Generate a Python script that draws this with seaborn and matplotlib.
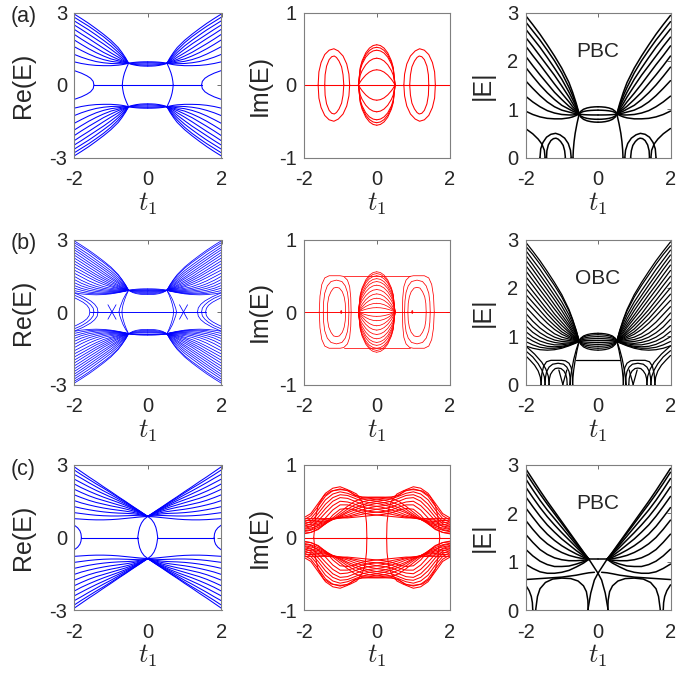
import numpy as np
import pandas as pd
import matplotlib
matplotlib.use('Agg')
import matplotlib.pyplot as plt
import seaborn as sns

# ---------------- row (a) : PBC ----------------
T_FAN = [0.52, 0.6, 0.7, 0.8, 1.0, 1.2, 1.4, 1.6, 1.8, 2.0]
re_fan_a = [
    [0.9, 1.12, 1.35, 1.55, 1.85, 2.1, 2.33, 2.55, 2.75, 2.94],
    [0.9, 1.08, 1.28, 1.45, 1.75, 2.0, 2.22, 2.43, 2.62, 2.81],
    [0.9, 1.04, 1.2, 1.35, 1.62, 1.85, 2.07, 2.28, 2.47, 2.66],
    [0.9, 1.0, 1.12, 1.25, 1.48, 1.7, 1.9, 2.1, 2.3, 2.49],
    [0.9, 0.97, 1.05, 1.15, 1.33, 1.52, 1.72, 1.92, 2.11, 2.31],
    [0.9, 0.95, 1.0, 1.06, 1.2, 1.35, 1.53, 1.71, 1.9, 2.1],
    [0.9, 0.93, 0.96, 1.0, 1.08, 1.2, 1.34, 1.5, 1.68, 1.87],
    [0.9, 0.91, 0.92, 0.94, 0.98, 1.05, 1.15, 1.28, 1.43, 1.59],
    [0.9, 0.89, 0.88, 0.88, 0.89, 0.92, 0.97, 1.05, 1.15, 1.27],
    [0.9, 0.87, 0.84, 0.82, 0.8, 0.8, 0.81, 0.84, 0.89, 0.96],
]
T_LENS = [0, 0.1, 0.2, 0.3, 0.4, 0.48, 0.52]
re_lens_a = [
    [0.96, 0.96, 0.955, 0.945, 0.93, 0.91, 0.9],
    [0.92, 0.92, 0.918, 0.915, 0.91, 0.9, 0.9],
    [0.87, 0.87, 0.872, 0.876, 0.882, 0.89, 0.9],
    [0.82, 0.822, 0.83, 0.84, 0.86, 0.885, 0.9],
    [0.78, 0.782, 0.79, 0.81, 0.84, 0.875, 0.9],
]
abs_lens_a = [
    [1.05, 1.047, 1.04, 1.025, 0.998, 0.953, 0.9],
    [0.98, 0.978, 0.974, 0.966, 0.952, 0.928, 0.9],
    [0.88, 0.88, 0.881, 0.883, 0.887, 0.893, 0.9],
    [0.79, 0.792, 0.798, 0.809, 0.829, 0.862, 0.9],
    [0.73, 0.733, 0.742, 0.759, 0.79, 0.84, 0.9],
]
T_CAP = [0, 0.1, 0.2, 0.3, 0.4, 0.45, 0.5]
im_cap_a = [
    [0.555, 0.544, 0.509, 0.444, 0.333, 0.242, 0],
    [0.52, 0.51, 0.477, 0.416, 0.312, 0.227, 0],
    [0.48, 0.47, 0.44, 0.384, 0.288, 0.209, 0],
    [0.37, 0.36, 0.331, 0.279, 0.198, 0.137, 0],
    [0.21, 0.202, 0.178, 0.137, 0.079, 0.043, 0],
]
ell_out_a_t = [0.74, 0.76, 0.82, 0.92, 1.05, 1.17, 1.3, 1.42, 1.52, 1.58, 1.6]
ell_out_a_e = [0, 0.15, 0.29, 0.4, 0.47, 0.5, 0.48, 0.42, 0.31, 0.18, 0]
ell_in_a_t = [0.9, 0.92, 0.96, 1.03, 1.1, 1.16, 1.23, 1.3, 1.37, 1.41, 1.42]
ell_in_a_e = [0, 0.14, 0.25, 0.33, 0.38, 0.4, 0.39, 0.35, 0.26, 0.14, 0]
arc_a_t = [0.52, 0.58, 0.63, 0.66, 0.68, 0.69]
arc_a_e = [0.9, 0.7, 0.5, 0.33, 0.16, 0]
hyp_a_t = [1.46, 1.48, 1.55, 1.65, 1.8, 2.0]
hyp_a_e = [0, 0.15, 0.28, 0.38, 0.49, 0.6]
zero_a_t = [0, 1.46]

# ---------------- row (b) : OBC ----------------
re_fan_b = [
    [0.9, 1.12, 1.35, 1.55, 1.86, 2.11, 2.34, 2.56, 2.76, 2.95],
    [0.9, 1.11, 1.33, 1.52, 1.81, 2.05, 2.27, 2.49, 2.69, 2.87],
    [0.9, 1.08, 1.27, 1.44, 1.71, 1.94, 2.16, 2.38, 2.58, 2.78],
    [0.9, 1.05, 1.21, 1.36, 1.62, 1.84, 2.06, 2.27, 2.48, 2.68],
    [0.9, 1.03, 1.16, 1.29, 1.53, 1.75, 1.96, 2.17, 2.38, 2.58],
    [0.9, 1.0, 1.11, 1.23, 1.44, 1.65, 1.86, 2.06, 2.27, 2.47],
    [0.9, 0.98, 1.07, 1.18, 1.37, 1.56, 1.76, 1.96, 2.16, 2.36],
    [0.9, 0.96, 1.03, 1.12, 1.29, 1.46, 1.66, 1.85, 2.05, 2.24],
    [0.9, 0.95, 1.0, 1.08, 1.22, 1.38, 1.55, 1.74, 1.93, 2.12],
    [0.9, 0.94, 0.98, 1.04, 1.15, 1.3, 1.46, 1.64, 1.82, 2.0],
    [0.9, 0.93, 0.96, 1.0, 1.09, 1.22, 1.36, 1.53, 1.7, 1.87],
    [0.9, 0.92, 0.94, 0.97, 1.04, 1.14, 1.27, 1.42, 1.58, 1.74],
    [0.9, 0.91, 0.92, 0.94, 0.98, 1.05, 1.16, 1.29, 1.45, 1.61],
    [0.9, 0.9, 0.9, 0.91, 0.93, 0.98, 1.06, 1.17, 1.31, 1.48],
    [0.9, 0.89, 0.88, 0.88, 0.89, 0.92, 0.98, 1.07, 1.19, 1.35],
    [0.9, 0.88, 0.87, 0.86, 0.85, 0.87, 0.91, 0.98, 1.08, 1.22],
    [0.9, 0.88, 0.86, 0.84, 0.82, 0.82, 0.85, 0.9, 0.98, 1.1],
    [0.9, 0.87, 0.85, 0.82, 0.79, 0.78, 0.79, 0.83, 0.9, 0.99],
    [0.9, 0.87, 0.84, 0.81, 0.77, 0.75, 0.75, 0.77, 0.82, 0.89],
    [0.9, 0.86, 0.83, 0.8, 0.75, 0.72, 0.71, 0.72, 0.75, 0.8],
]
re_lens_b = [
    [0.96, 0.96, 0.955, 0.945, 0.93, 0.91, 0.9],
    [0.93, 0.93, 0.928, 0.923, 0.915, 0.905, 0.9],
    [0.9, 0.9, 0.9, 0.9, 0.9, 0.9, 0.9],
    [0.87, 0.87, 0.872, 0.876, 0.882, 0.892, 0.9],
    [0.84, 0.841, 0.845, 0.852, 0.866, 0.886, 0.9],
    [0.8, 0.802, 0.808, 0.82, 0.845, 0.878, 0.9],
    [0.76, 0.762, 0.77, 0.789, 0.823, 0.87, 0.9],
    [0.72, 0.723, 0.733, 0.757, 0.8, 0.862, 0.9],
]
abs_lens_b = [
    [1.06, 1.057, 1.049, 1.033, 1.004, 0.956, 0.9],
    [1.03, 1.027, 1.021, 1.008, 0.985, 0.946, 0.9],
    [0.99, 0.988, 0.984, 0.975, 0.959, 0.932, 0.9],
    [0.95, 0.949, 0.947, 0.942, 0.933, 0.918, 0.9],
    [0.91, 0.91, 0.91, 0.91, 0.906, 0.904, 0.9],
    [0.87, 0.871, 0.872, 0.875, 0.881, 0.89, 0.9],
    [0.83, 0.831, 0.835, 0.842, 0.855, 0.876, 0.9],
    [0.79, 0.792, 0.798, 0.809, 0.829, 0.862, 0.9],
    [0.75, 0.753, 0.76, 0.776, 0.803, 0.848, 0.9],
    [0.71, 0.714, 0.723, 0.742, 0.777, 0.834, 0.9],
]
im_cap_b = [
    [0.555, 0.544, 0.509, 0.444, 0.333, 0.242, 0],
    [0.53, 0.519, 0.486, 0.424, 0.318, 0.231, 0],
    [0.5, 0.49, 0.458, 0.4, 0.3, 0.218, 0],
    [0.46, 0.45, 0.418, 0.36, 0.265, 0.19, 0],
    [0.42, 0.41, 0.38, 0.325, 0.235, 0.165, 0],
    [0.37, 0.36, 0.331, 0.279, 0.198, 0.137, 0],
    [0.31, 0.301, 0.274, 0.226, 0.155, 0.104, 0],
    [0.25, 0.241, 0.215, 0.17, 0.105, 0.062, 0],
    [0.19, 0.182, 0.16, 0.122, 0.068, 0.036, 0],
    [0.12, 0.115, 0.101, 0.077, 0.043, 0.023, 0],
    [0.06, 0.058, 0.05, 0.038, 0.022, 0.011, 0],
]
ell_c_b_t = [0.7, 0.71, 0.74, 0.8, 0.9, 1.0, 1.3, 1.42, 1.5, 1.55, 1.57]
ell_c_b_e = [0, 0.2, 0.35, 0.44, 0.49, 0.5, 0.5, 0.47, 0.38, 0.22, 0]
ell_a_b_t = [0.76, 0.77, 0.8, 0.86, 0.95, 1.1, 1.25, 1.35, 1.42, 1.45, 1.46]
ell_a_b_e = [0, 0.15, 0.27, 0.36, 0.42, 0.44, 0.42, 0.36, 0.26, 0.14, 0]
ell_b_b_t = [0.85, 0.86, 0.89, 0.94, 1.02, 1.1, 1.18, 1.25, 1.31, 1.34, 1.35]
ell_b_b_e = [0, 0.12, 0.21, 0.28, 0.33, 0.34, 0.33, 0.28, 0.21, 0.12, 0]
dot_b_t = [0.955, 0.96, 0.97, 0.98, 0.985]
dot_b_e = [0, 0.015, 0.02, 0.015, 0]
top_line_b_t = [0, 0.9]
top_line_b_e = [0.5, 0.5]
flat_abs_b_t = [0, 0.6]
flat_abs_b_e = [0.5, 0.5]
arc1_b_t = [0.52, 0.58, 0.63, 0.67, 0.69, 0.7]
arc1_b_e = [0.9, 0.7, 0.5, 0.3, 0.15, 0]
arc2_b_t = [0.52, 0.6, 0.67, 0.72, 0.76, 0.78]
arc2_b_e = [0.9, 0.72, 0.52, 0.32, 0.15, 0]
cross_b_t = [0.86, 0.97, 1.08]
cross_b_e = [0.3, 0, -0.3]
hyp_c_b_t = [1.57, 1.59, 1.65, 1.75, 1.87, 2.0]
hyp_c_b_e = [0, 0.15, 0.28, 0.4, 0.5, 0.6]
hyp_a_b_t = [1.46, 1.48, 1.55, 1.65, 1.8, 2.0]
hyp_a_b_e = [0, 0.16, 0.3, 0.43, 0.57, 0.7]
hyp_b_b_t = [1.35, 1.37, 1.44, 1.55, 1.75, 2.0]
hyp_b_b_e = [0, 0.17, 0.32, 0.46, 0.63, 0.8]
zero_b_t = [0, 1.57]

# ---------------- row (c) : PBC ----------------
T_C = [0, 0.2, 0.4, 0.6, 0.8, 1.0, 1.2, 1.4, 1.6, 1.8, 2.0]
re_fan_c = [
    [0.87, 1.08, 1.28, 1.49, 1.69, 1.9, 2.1, 2.31, 2.51, 2.72, 2.93],
    [0.87, 1.07, 1.27, 1.47, 1.66, 1.85, 2.04, 2.22, 2.41, 2.6, 2.8],
    [0.87, 1.06, 1.25, 1.43, 1.6, 1.77, 1.93, 2.1, 2.27, 2.45, 2.62],
    [0.87, 1.05, 1.22, 1.38, 1.53, 1.67, 1.81, 1.95, 2.1, 2.26, 2.42],
    [0.87, 1.04, 1.19, 1.33, 1.45, 1.56, 1.67, 1.79, 1.92, 2.06, 2.22],
    [0.87, 1.02, 1.15, 1.26, 1.35, 1.44, 1.53, 1.62, 1.73, 1.86, 2.0],
    [0.87, 1.0, 1.1, 1.18, 1.25, 1.31, 1.38, 1.45, 1.54, 1.65, 1.77],
    [0.87, 0.97, 1.04, 1.09, 1.13, 1.17, 1.22, 1.28, 1.35, 1.43, 1.53],
    [0.87, 0.94, 0.98, 1.0, 1.01, 1.03, 1.06, 1.1, 1.15, 1.21, 1.28],
    [0.87, 0.9, 0.91, 0.9, 0.89, 0.89, 0.9, 0.92, 0.95, 0.99, 1.03],
    [0.87, 0.85, 0.82, 0.79, 0.76, 0.74, 0.73, 0.73, 0.74, 0.76, 0.78],
]
eye_c_t = [0, 0.1, 0.17, 0.22, 0.25, 0.27]
eye_c_e = [0.87, 0.75, 0.6, 0.42, 0.22, 0]
zero_c_t = [0.27, 1.8]
hyp_c_t = [1.8, 1.81, 1.84, 1.9, 2.0]
hyp_c_e = [0, 0.15, 0.28, 0.4, 0.52]

T_FULL = [-2, -1.8, -1.6, -1.4, -1.2, -1.0, -0.8, -0.6, -0.4, -0.2, 0,
          0.2, 0.4, 0.6, 0.8, 1.0, 1.2, 1.4, 1.6, 1.8, 2.0]
im_bulge_c = [
    [0.27, 0.33, 0.47, 0.61, 0.68, 0.70, 0.66, 0.58, 0.56, 0.556, 0.555, 0.553, 0.54, 0.5, 0.43, 0.35, 0.27, 0.19, 0.12, 0.07, 0.05],
    [0.24, 0.3, 0.43, 0.57, 0.645, 0.67, 0.645, 0.59, 0.55, 0.54, 0.53, 0.515, 0.49, 0.45, 0.39, 0.32, 0.25, 0.19, 0.14, 0.1, 0.08],
    [0.21, 0.26, 0.38, 0.52, 0.6, 0.63, 0.61, 0.57, 0.53, 0.515, 0.5, 0.48, 0.45, 0.41, 0.36, 0.3, 0.25, 0.2, 0.16, 0.13, 0.11],
    [0.18, 0.22, 0.33, 0.46, 0.55, 0.59, 0.58, 0.54, 0.5, 0.48, 0.47, 0.45, 0.42, 0.38, 0.34, 0.29, 0.25, 0.21, 0.18, 0.16, 0.14],
    [0.15, 0.19, 0.28, 0.4, 0.5, 0.55, 0.54, 0.5, 0.46, 0.44, 0.43, 0.41, 0.38, 0.35, 0.31, 0.28, 0.25, 0.22, 0.2, 0.18, 0.17],
    [0.12, 0.15, 0.23, 0.34, 0.44, 0.5, 0.49, 0.46, 0.42, 0.4, 0.39, 0.37, 0.35, 0.32, 0.29, 0.27, 0.25, 0.23, 0.22, 0.21, 0.2],
    [0.09, 0.11, 0.17, 0.27, 0.38, 0.45, 0.45, 0.42, 0.38, 0.36, 0.35, 0.34, 0.32, 0.3, 0.28, 0.27, 0.26, 0.25, 0.24, 0.235, 0.23],
    [0.06, 0.07, 0.11, 0.19, 0.31, 0.39, 0.4, 0.38, 0.34, 0.32, 0.31, 0.3, 0.29, 0.28, 0.27, 0.27, 0.265, 0.26, 0.26, 0.26, 0.26],
]
hump_c_t = [0.27, 0.28, 0.32, 0.4, 0.55, 0.75, 1.0, 1.25, 1.45, 1.6, 1.67, 1.72]
hump_c_e = [0, 0.2, 0.38, 0.5, 0.6, 0.65, 0.66, 0.64, 0.57, 0.44, 0.28, 0]
zero_im_t = [0, 2.0]

T_ABS_C = [0.25, 0.4, 0.6, 0.8, 1.0, 1.2, 1.4, 1.6, 1.8, 2.0]
abs_fan_c = [
    [1.05, 1.2, 1.41, 1.62, 1.83, 2.04, 2.25, 2.47, 2.7, 2.93],
    [1.05, 1.19, 1.39, 1.59, 1.79, 1.99, 2.19, 2.4, 2.62, 2.85],
    [1.05, 1.17, 1.35, 1.53, 1.71, 1.89, 2.07, 2.27, 2.49, 2.72],
    [1.05, 1.15, 1.3, 1.45, 1.6, 1.76, 1.93, 2.12, 2.33, 2.55],
    [1.05, 1.12, 1.23, 1.35, 1.47, 1.61, 1.76, 1.94, 2.14, 2.35],
    [1.05, 1.09, 1.16, 1.24, 1.33, 1.44, 1.57, 1.73, 1.92, 2.12],
    [1.05, 1.06, 1.09, 1.13, 1.19, 1.27, 1.37, 1.5, 1.67, 1.86],
    [1.05, 1.03, 1.02, 1.02, 1.04, 1.08, 1.15, 1.25, 1.4, 1.57],
    [1.05, 1.0, 0.95, 0.91, 0.9, 0.9, 0.94, 1.01, 1.12, 1.26],
    [1.05, 0.97, 0.89, 0.82, 0.78, 0.76, 0.76, 0.79, 0.86, 0.95],
]
low_abs_c_t = [0.1, 0.25, 0.4, 0.6, 0.8, 1.0, 1.2, 1.4, 1.6, 1.8, 2.0]
low_abs_c_e = [0.78, 0.77, 0.75, 0.72, 0.7, 0.68, 0.67, 0.66, 0.65, 0.64, 0.63]
top_abs_c_t = [0, 0.25]
top_abs_c_e = [1.05, 1.05]
tri_abs_c_t = [0, 0.25]
tri_abs_c_e = [0.76, 1.05]
cusp_abs_c_t = [0.28, 0.2, 0.1, 0]
cusp_abs_c_e = [0, 0.35, 0.62, 0.76]


def to_frame(curves):
    # every curve is drawn with its mirror images in t1 and in E
    parts = []
    uid = 0
    for t, e in curves:
        t = np.asarray(t, float)
        e = np.asarray(e, float)
        for st in (1, -1):
            for se in (1, -1):
                parts.append(pd.DataFrame({'t1': st * t, 'E': se * e, 'curve': uid}))
                uid += 1
    return pd.concat(parts, ignore_index=True)


def grid(tt, rows):
    return [(tt, r) for r in rows]


panels = {
    ('a', 0): grid(T_FAN, re_fan_a) + grid(T_LENS, re_lens_a) + [
        (arc_a_t, arc_a_e), (hyp_a_t, hyp_a_e), (zero_a_t, [0, 0])],
    ('a', 1): grid(T_CAP, im_cap_a) + [
        (ell_out_a_t, ell_out_a_e), (ell_in_a_t, ell_in_a_e), ([0, 2], [0, 0])],
    ('a', 2): grid(T_FAN, re_fan_a) + grid(T_LENS, abs_lens_a) + [
        (arc_a_t, arc_a_e), (hyp_a_t, hyp_a_e),
        (ell_out_a_t, ell_out_a_e), (ell_in_a_t, ell_in_a_e)],
    ('b', 0): grid(T_FAN, re_fan_b) + grid(T_LENS, re_lens_b) + [
        (arc1_b_t, arc1_b_e), (arc2_b_t, arc2_b_e), (cross_b_t, cross_b_e),
        (hyp_c_b_t, hyp_c_b_e), (hyp_a_b_t, hyp_a_b_e), (hyp_b_b_t, hyp_b_b_e),
        (zero_b_t, [0, 0])],
    ('b', 1): grid(T_CAP, im_cap_b) + [
        (ell_c_b_t, ell_c_b_e), (ell_a_b_t, ell_a_b_e), (ell_b_b_t, ell_b_b_e),
        (dot_b_t, dot_b_e), (top_line_b_t, top_line_b_e), ([0, 2], [0, 0])],
    ('b', 2): grid(T_FAN, re_fan_b) + grid(T_LENS, abs_lens_b) + [
        (arc1_b_t, arc1_b_e), (arc2_b_t, arc2_b_e), (cross_b_t, cross_b_e),
        (hyp_c_b_t, hyp_c_b_e), (hyp_a_b_t, hyp_a_b_e), (hyp_b_b_t, hyp_b_b_e),
        (ell_c_b_t, ell_c_b_e), (ell_a_b_t, ell_a_b_e), (ell_b_b_t, ell_b_b_e),
        (flat_abs_b_t, flat_abs_b_e)],
    ('c', 0): grid(T_C, re_fan_c) + [
        (eye_c_t, eye_c_e), (zero_c_t, [0, 0]), (hyp_c_t, hyp_c_e)],
    ('c', 1): grid(T_FULL, im_bulge_c) + [
        (hump_c_t, hump_c_e), (zero_im_t, [0, 0])],
    ('c', 2): grid(T_ABS_C, abs_fan_c) + [
        (low_abs_c_t, low_abs_c_e), (top_abs_c_t, top_abs_c_e),
        (tri_abs_c_t, tri_abs_c_e), (cusp_abs_c_t, cusp_abs_c_e),
        (hump_c_t, hump_c_e), (hyp_c_t, hyp_c_e)],
}

sns.set_theme(style='white')
plt.rcParams['font.family'] = ['Liberation Sans', 'DejaVu Sans']
plt.rcParams['mathtext.fontset'] = 'cm'

W, H = 678, 679
fig = plt.figure(figsize=(W / 100, H / 100), dpi=100)
lefts = [74, 303.5, 525.5]
widths = [147.5, 146.5, 145]
tops = [12.5, 239.5, 465]
ph = 145

colors = ['#0000ff', '#ff0000', '#000000']
ylabels = ['Re(E)', 'Im(E)', '|E|']
ylims = [(-3, 3), (-1, 1), (0, 3)]
yticks = [[-3, 0, 3], [-1, 0, 1], [0, 1, 2, 3]]
ypads = [10, 5, 9]
tags = {'a': 'PBC', 'b': 'OBC', 'c': 'PBC'}

for r, row in enumerate(['a', 'b', 'c']):
    for c in range(3):
        ax = fig.add_axes([lefts[c] / W, 1 - (tops[r] + ph) / H, widths[c] / W, ph / H])
        df = to_frame(panels[(row, c)])
        lw = 0.55 if row == 'b' and c < 2 else 0.75
        if c == 2:
            lw = 1.1 if row != 'b' else 0.9
        sns.lineplot(data=df, x='t1', y='E', units='curve', estimator=None,
                     sort=False, color=colors[c], lw=lw, ax=ax, legend=False)
        ax.set_xlim(-2, 2)
        ax.set_ylim(*ylims[c])
        ax.set_xticks([-2, 0, 2])
        ax.set_yticks(yticks[c])
        ax.set_xticklabels(['-2', '0', '2'])
        ax.set_yticklabels([str(v) for v in yticks[c]])
        ax.tick_params(direction='in', length=3, width=0.6, labelsize=14.5,
                       top=True, right=True, color='#555555')
        ax.tick_params(axis='x', pad=9)
        ax.tick_params(axis='y', pad=5)
        for sp in ax.spines.values():
            sp.set_color('#7f7f7f')
            sp.set_linewidth(0.8)
        ax.set_xlabel('$t_1$', fontsize=19, labelpad=1)
        ax.set_ylabel(ylabels[c], fontsize=18, labelpad=ypads[c])
        if c == 2:
            ax.text(0, 2.2, tags[row], ha='center', va='center', fontsize=15)
    fig.text(11 / W, 1 - (tops[r] + 4) / H, '(%s)' % row, fontsize=15.5,
             ha='left', va='center')

fig.savefig('out.png', dpi=100)
